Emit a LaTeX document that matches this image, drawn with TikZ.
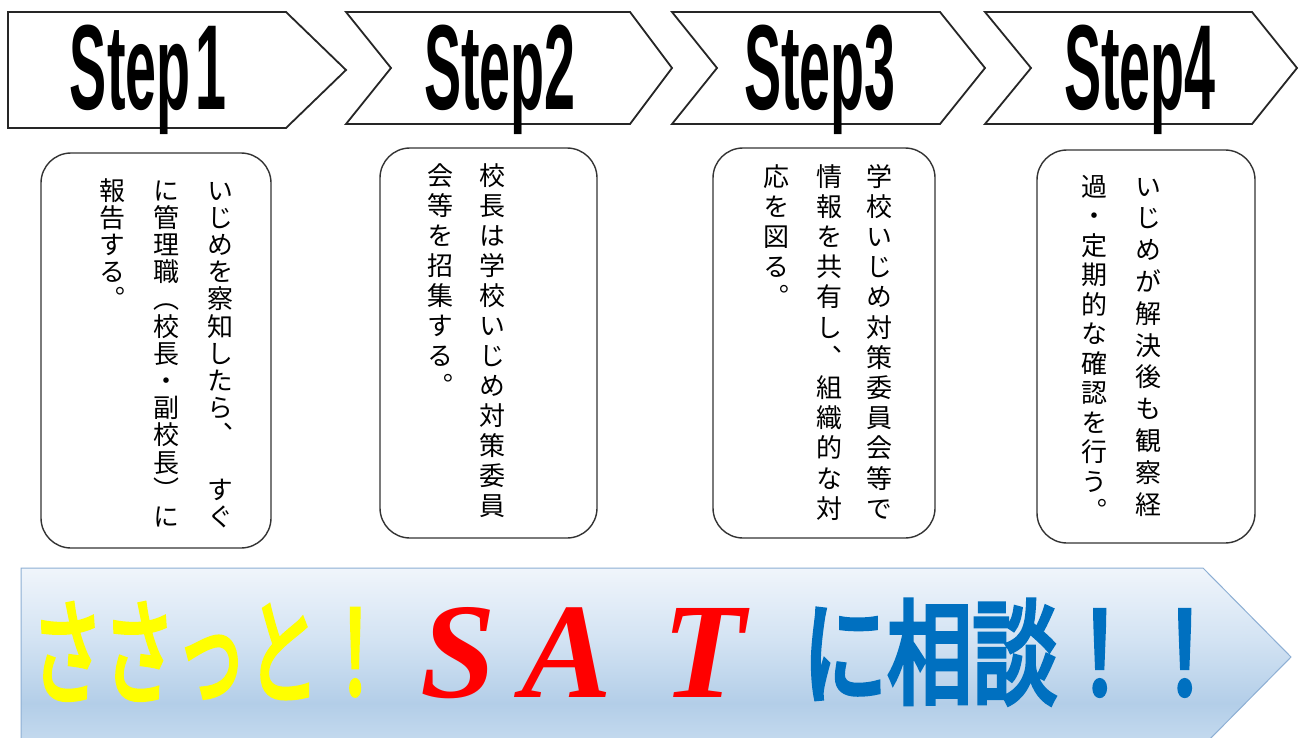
\documentclass[tikz,border=0pt]{standalone}
\usepackage{fontspec}
\usepackage{graphicx}
\newfontfamily\jpv[RawFeature={+vert}]{Noto Sans CJK JP}
\newfontfamily\jpy[FakeBold=4]{Noto Sans CJK JP}
\newfontfamily\jpb[FakeBold=4.5]{Noto Sans CJK JP}
\newfontfamily\stepfont{Liberation Sans}
\newfontfamily\satfont{Liberation Serif}
\definecolor{shtop}{HTML}{F0F5FB}
\definecolor{shmid}{HTML}{D3E3F3}
\definecolor{shdark}{HTML}{B3CEE8}
\definecolor{shbot}{HTML}{C6DBEF}
\definecolor{arrowline}{HTML}{8DAFD4}
\definecolor{satyellow}{HTML}{FFFF00}
\definecolor{satred}{HTML}{FF0000}
\definecolor{satblue}{HTML}{0070C0}
\pgfdeclareverticalshading{satsh}{100bp}{color(0bp)=(shbot); color(25bp)=(shbot); color(37bp)=(shdark); color(55bp)=(shmid); color(75bp)=(shtop); color(100bp)=(shtop)}
\makeatletter
\newcommand\vcol[2]{\vbox{\baselineskip=#1\relax\lineskiplimit=-1000pt\lineskip=0pt\relax\vcol@a#2\relax}}
\def\vcol@a#1{\ifx\relax#1\else\hbox{\vrule height .88em depth .12em width 0pt\hbox to 1em{\hss#1\hss}}\expandafter\vcol@a\fi}
\makeatother
\begin{document}
\begin{tikzpicture}[x=1pt,y=-1pt,
  stepshape/.style={draw=black!85, line width=1.8pt, fill=white, line join=miter},
  steptxt/.style={inner sep=0pt, anchor=base, font=\stepfont\bfseries\fontsize{121}{121}\selectfont},
  txtbox/.style={draw=black!80, line width=1.4pt, rounded corners=30pt, fill=white, inner sep=0pt},
  vtxt/.style={inner sep=0pt, anchor=north, font=\jpv\fontsize{26}{26}\selectfont},
  bigtxt/.style={inner sep=0pt, anchor=base west}]
\useasboundingbox (0,0) rectangle (1305,738);
\fill[white] (0,0) rectangle (1305,738);
% step arrows
\draw[stepshape] (8,12) -- (286,12) -- (346,70) -- (286,128) -- (8,128) -- cycle;
\draw[stepshape] (346,12) -- (630,12) -- (672,68) -- (630,124) -- (346,124) -- (391,68) -- cycle;
\draw[stepshape] (672,12) -- (940,12) -- (985,68) -- (940,124) -- (672,124) -- (717,68) -- cycle;
\draw[stepshape] (985,12) -- (1252,12) -- (1297,68) -- (1252,124) -- (985,124) -- (1031,68) -- cycle;
\node[steptxt] (s1) at (148,110) {\scalebox{0.46}[1]{Step\hspace{10pt}1}};
\node[steptxt] (s2) at (500,110) {\scalebox{0.46}[1]{Step2}};
\node[steptxt] (s3) at (820,110) {\scalebox{0.46}[1]{Step3}};
\node[steptxt] (s4) at (1140,110) {\scalebox{0.46}[1]{Step4}};
% text boxes
\node[txtbox, minimum width=230pt, minimum height=395pt] (box1) at (156,350.5) {};
\node[txtbox, minimum width=217pt, minimum height=390pt] (box2) at (488.5,343) {};
\node[txtbox, minimum width=222pt, minimum height=390pt] (box3) at (824,343) {};
\node[txtbox, minimum width=218pt, minimum height=393pt] (box4) at (1146,346.5) {};
% box texts
\node[vtxt] (b1a) at (220,177) {\vcol{27.2pt}{いじめを察知したら、　すぐ}};
\node[vtxt] (b1b) at (166,177) {\vcol{27.2pt}{に管理職（校長・副校長）に}};
\node[vtxt] (b1c) at (112,177) {\vcol{27.2pt}{報告する。}};
\node[vtxt] (b2a) at (492,162) {\vcol{30pt}{校長は学校いじめ対策委員}};
\node[vtxt] (b2b) at (440,162) {\vcol{30pt}{会等を招集する。}};
\node[vtxt] (b3a) at (879,163) {\vcol{30.2pt}{学校いじめ対策委員会等で}};
\node[vtxt] (b3b) at (829,163) {\vcol{30.2pt}{情報を共有し、組織的な対}};
\node[vtxt] (b3c) at (776,163) {\vcol{30.2pt}{応を図る。}};
\node[vtxt] (b4a) at (1148,173) {\vcol{31.8pt}{いじめが解決後も観察経}};
\node[vtxt] (b4b) at (1094,173) {\vcol{29.5pt}{過・定期的な確認を行う。}};
% bottom arrow
\begin{scope}
\clip (0,0) rectangle (1305,738);
\shadedraw[shading=satsh, draw=arrowline, line width=1pt] (21,568) -- (1203,568) -- (1291,657) -- (1203,746) -- (21,746) -- cycle;
\end{scope}
\node[bigtxt, text=satyellow, font=\jpy\fontsize{72}{72}\selectfont] (sat1) at (31,695) {\scalebox{1}[1.6]{ささっと！}};
\node[bigtxt, text=satred, font=\satfont\bfseries\itshape\fontsize{136}{136}\selectfont] (sat2) at (404,697) {\makebox[108pt]{S}\makebox[110pt]{A}\makebox[164pt]{T}};
\node[bigtxt, text=satblue, font=\jpb\fontsize{85}{85}\selectfont] (sat3) at (802,695) {\scalebox{1}[1.33]{に相談！！}};
\end{tikzpicture}
\end{document}
